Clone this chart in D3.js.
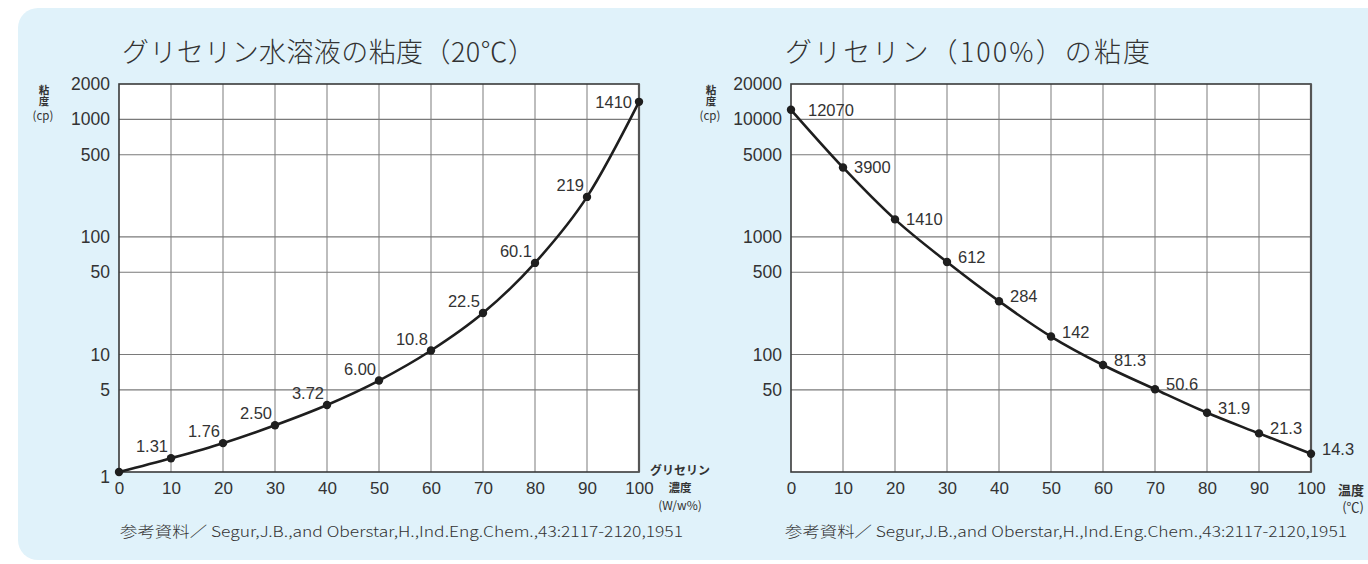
<!DOCTYPE html>
<html><head><meta charset="utf-8">
<script src="https://cdn.jsdelivr.net/npm/d3@7"></script>
<style>
html,body{margin:0;padding:0;background:#fff;}
text{font-family:"Liberation Sans",Arial,"Noto Sans CJK JP",sans-serif;fill:#333;}
.jp{font-family:"Noto Sans CJK JP",sans-serif;}
</style></head>
<body>
<svg id="c" width="1368" height="564"></svg>
<script>
// ---- data ----
const concentration = [0,10,20,30,40,50,60,70,80,90,100];
const viscosityAq = [1,1.31,1.76,2.50,3.72,6.00,10.8,22.5,60.1,219,1410];
const labelsAq = ["","1.31","1.76","2.50","3.72","6.00","10.8","22.5","60.1","219","1410"];
const temperature = [0,10,20,30,40,50,60,70,80,90,100];
const viscosityPure = [12070,3900,1410,612,284,142,81.3,50.6,31.9,21.3,14.3];
const labelsPure = ["12070","3900","1410","612","284","142","81.3","50.6","31.9","21.3","14.3"];
const xTicks = [0,10,20,30,40,50,60,70,80,90,100];
const yTicksAq = [1,5,10,50,100,500,1000,2000];
const yGridAq = [5,10,50,100,500,1000];
const yTicksPure = [50,100,500,1000,5000,10000,20000];
const yGridPure = [50,100,500,1000,5000,10000];
const title1 = "グリセリン水溶液の粘度（20℃）";
const title2 = "グリセリン（100%）の粘度";
const note = "参考資料／ Segur,J.B.,and Oberstar,H.,Ind.Eng.Chem.,43:2117-2120,1951";

const svg = d3.select("#c");
svg.append("rect").attr("x",18).attr("y",8).attr("width",1400).attr("height",552)
  .attr("rx",20).attr("fill","#e0f2fa");

function panel(o){
  const x = d3.scaleLinear().domain([0,100]).range([o.x0,o.x0+520]);
  const y = d3.scaleLog().domain(o.ydom).range([472,84]);
  const g = svg.append("g");
  g.append("rect").attr("x",x(0)).attr("y",84).attr("width",520).attr("height",388).attr("fill","#fff");
  // grid
  g.selectAll(".vg").data(xTicks.filter(d=>d>0&&d<100)).join("line")
    .attr("x1",d=>x(d)).attr("x2",d=>x(d)).attr("y1",84).attr("y2",472)
    .attr("stroke","#9a9a9a").attr("stroke-width",1.3);
  g.selectAll(".hg").data(o.grid).join("line")
    .attr("x1",x(0)).attr("x2",x(100)).attr("y1",d=>y(d)).attr("y2",d=>y(d))
    .attr("stroke","#7a7a7a").attr("stroke-width",1.1);
  // frame
  g.append("rect").attr("x",x(0)).attr("y",84).attr("width",520).attr("height",388)
    .attr("fill","none").attr("stroke","#3a3a3a").attr("stroke-width",1.6);
  g.append("line").attr("x1",x(100)).attr("x2",x(100)).attr("y1",84).attr("y2",472)
    .attr("stroke","#555").attr("stroke-width",2.2);
  // axes
  const ya = g.append("g").attr("transform",`translate(${x(0)},0)`)
    .call(d3.axisLeft(y).tickValues(o.yticks).tickFormat(d3.format("d")).tickSize(0).tickPadding(9));
  ya.select(".domain").remove();
  ya.selectAll("text").attr("font-size",17.5).attr("font-family","Liberation Sans, Arial, sans-serif").attr("fill","#333")
    .attr("dy",d=>d===1?"0.62em":"0.32em");
  const xa = g.append("g").attr("transform","translate(0,472)")
    .call(d3.axisBottom(x).tickValues(xTicks).tickSize(0).tickPadding(10));
  xa.select(".domain").remove();
  xa.selectAll("text").attr("font-size",17).attr("font-family","Liberation Sans, Arial, sans-serif").attr("fill","#333");
  // line
  const pts = o.xs.map((d,i)=>[x(d),y(o.ys[i])]);
  g.append("path").attr("d",d3.line().curve(d3.curveMonotoneX)(pts))
    .attr("fill","none").attr("stroke","#1e1e1e").attr("stroke-width",2.6);
  g.selectAll(".pt").data(pts).join("circle").attr("cx",d=>d[0]).attr("cy",d=>d[1]).attr("r",4.2).attr("fill","#1e1e1e");
  // labels
  g.selectAll(".lb").data(pts).join("text")
    .attr("x",(d,i)=>o.lx(d,i)).attr("y",(d,i)=>o.ly(d,i))
    .attr("text-anchor",o.anchor).attr("font-size",16.5).attr("fill","#333")
    .text((d,i)=>o.labels[i]);
  // title
  svg.append("text").attr("class","jp").attr("x",o.tx).attr("y",62).attr("font-size",27).attr("font-weight",300)
    .attr("fill","#3a3a3a").attr("textLength",o.tw).attr("lengthAdjust","spacing").text(o.title);
  // footnote
  svg.append("text").attr("class","jp").attr("x",o.nx).attr("y",537).attr("font-size",14.5).attr("font-weight",300)
    .attr("fill","#444").attr("textLength",o.nw).attr("lengthAdjust","spacingAndGlyphs").text(note);
  // y title (vertical)
  svg.append("text").attr("class","jp").attr("x",o.ytx).attr("y",85)
    .attr("writing-mode","vertical-rl").style("writing-mode","vertical-rl")
    .attr("font-size",10.5).attr("font-weight",700).attr("fill","#333").text("粘度");
  svg.append("text").attr("class","jp").attr("text-anchor","middle").attr("font-size",11.5)
    .attr("x",o.ytx-1).attr("y",120).attr("fill","#333").text("(cp)");
  return {x,y};
}

panel({x0:119, ydom:[1,2000], grid:yGridAq, yticks:yTicksAq, xs:concentration, ys:viscosityAq,
  labels:labelsAq, anchor:"end",
  lx:(d,i)=> i===10 ? d[0]-7 : d[0]-3,
  ly:(d,i)=> i===10 ? d[1]+6 : d[1]-6,
  title:title1, tx:122, tw:413, nx:120, nw:563, ytx:44});

panel({x0:791, ydom:[10,20000], grid:yGridPure, yticks:yTicksPure, xs:temperature, ys:viscosityPure,
  labels:labelsPure, anchor:"start",
  lx:(d,i)=> i===0 ? d[0]+17 : d[0]+11,
  ly:(d,i)=> i<3 ? d[1]+6 : d[1]+1,
  title:title2, tx:785, tw:365, nx:785, nw:562, ytx:711});

// x axis titles
svg.append("text").attr("class","jp").attr("text-anchor","middle").attr("font-size",12).attr("font-weight",700).attr("x",680).attr("y",475).attr("fill","#333").text("グリセリン");
svg.append("text").attr("class","jp").attr("text-anchor","middle").attr("font-size",11.5).attr("font-weight",700).attr("x",680).attr("y",492).attr("fill","#333").text("濃度");
svg.append("text").attr("class","jp").attr("text-anchor","middle").attr("font-size",12).attr("x",680).attr("y",510).attr("fill","#333").text("(W/w%)");
svg.append("text").attr("class","jp").attr("text-anchor","end").attr("font-size",13).attr("font-weight",700).attr("x",1364).attr("y",495).attr("fill","#333").text("温度");
svg.append("text").attr("class","jp").attr("text-anchor","end").attr("font-size",13).attr("x",1364).attr("y",512).attr("fill","#333").text("(℃)");
</script>
</body></html>
